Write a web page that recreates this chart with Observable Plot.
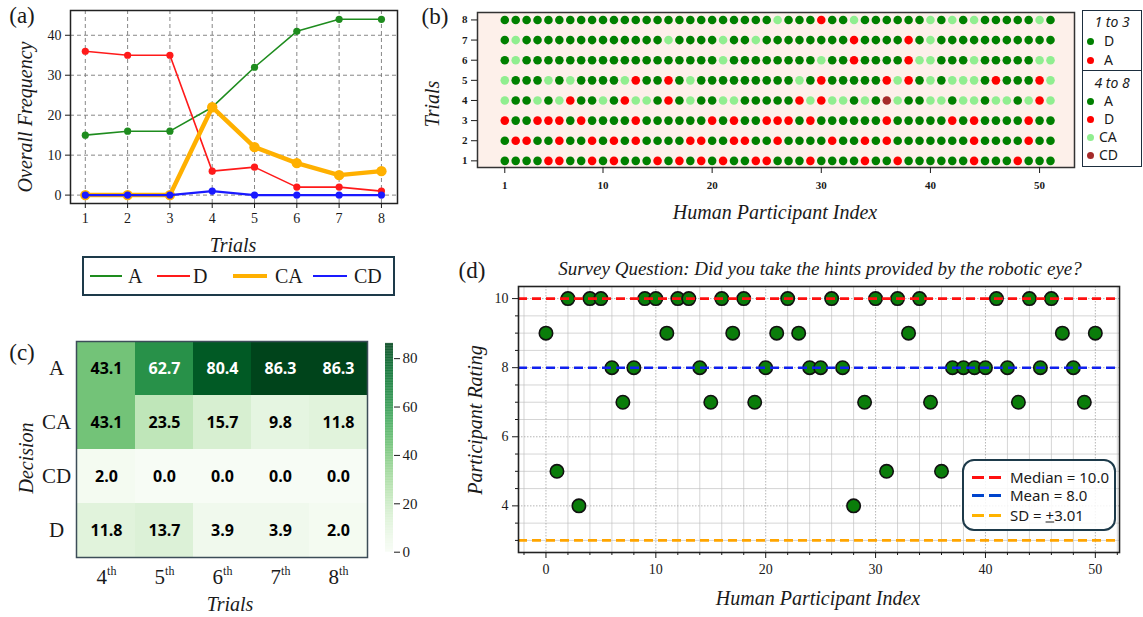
<!DOCTYPE html>
<html><head><meta charset="utf-8">
<script src="https://cdn.jsdelivr.net/npm/d3@7"></script>
<script src="https://cdn.jsdelivr.net/npm/@observablehq/plot@0.6"></script>
<style>
html,body{margin:0;padding:0;background:#fff;}
body{width:1143px;height:617px;position:relative;overflow:hidden;}
.t{position:absolute;white-space:nowrap;color:#1a1a1a;line-height:1;}
.box{position:absolute;box-sizing:border-box;}
.pl{position:absolute;}
</style></head><body>
<script>
// ---------------- DATA ----------------
// (a) overall frequency per trial
const trials = [1,2,3,4,5,6,7,8];
const freqA  = [15,16,16,22,32,41,44,44];
const freqD  = [36,35,35,6,7,2,2,1];
const freqCA = [0,0,0,22,12,8,5,6];
const freqCD = [0,0,0,1,0,0,0,0];
const freqYTicks = [0,10,20,30,40];

// (b) decision per participant (1..51) per trial
// trials 1-3: D / A ; trials 4-8: a = A, d = D, c = CA, x = CD
const trial1 = "DDDDAADDAD ADDDADADAD ADDAADDDAD DDDADDADDD DDDADDDADD D".split(/\s*/);
const trial2 = "DAADDADDAD ADADDDDAAD DAADDADDDD ADDADADDDD DDDADDDDAD D".split(/\s*/);
const trial3 = "ADDAAADADD DDADDDDDDA DADDAAADAD DDDDDADDDD DADADDDDAD D".split(/\s*/);
const trial4 = "caacacdaac adccadacaa ccaaaaadcd ccacaxcaac caccaccacd c".split(/\s*/);
const trial5 = "caaacacaaa acdaadacaa aaaaaaacad aaaaadcdac acccadaaad c".split(/\s*/);
const trial6 = "acaaaaaaaa aaaaaaaaaa caaaaaaaac aadaaaadcc aaacaaaaac c".split(/\s*/);
const trial7 = "acaaaaaaaa aaaaacaaaa caacaaaaaa aadaaaadac aaaaaaaaaa a".split(/\s*/);
const trial8 = "aaaaaaaaaa aaaaaaaaaa aaaaacaaad aacaaaaaac acacaaaaac a".split(/\s*/);
const participantTicks = [1,10,20,30,40,50];

// (c) percentage heatmap
const heatTrials = ["4","5","6","7","8"];
const heatDecisions = ["A","CA","CD","D"];
const heatA  = [43.1,62.7,80.4,86.3,86.3];
const heatCA = [43.1,23.5,15.7,9.8,11.8];
const heatCD = [2.0,0.0,0.0,0.0,0.0];
const heatD  = [11.8,13.7,3.9,3.9,2.0];
const colorbarTicks = [0,20,40,60,80];

// (d) survey ratings, participants 0..50
const ratings = [9,5,10,4,10,10,8,7,8,10, 10,9,10,10,8,7,10,9,10,7, 8,9,10,9,8,8,10,8,4,7,
                 10,5,10,9,10,7,5,8,8,8, 8,10,8,7,10,8,10,9,8,7, 9];
const medianLine = 10.0, meanLine = 8.0, sdLine = 3.0;
const ratingTicks = [4,6,8,10];
const indexTicks = [0,10,20,30,40,50];

// ---------------- HELPERS ----------------
const SERIF = '"Liberation Serif","DejaVu Serif",serif';
const SANS = '"Noto Sans","Open Sans",sans-serif';
function place(node, left, top){
  const d = document.createElement("div");
  d.className = "pl"; d.style.left = left+"px"; d.style.top = top+"px";
  d.appendChild(node); document.body.appendChild(d); return d;
}
function text(str, cx, cy, o={}){
  const el = document.createElement("div");
  el.className = "t";
  if (o.html) el.innerHTML = str; else el.textContent = str;
  el.style.left = cx+"px"; el.style.top = cy+"px";
  el.style.transform = (o.anchor==="start" ? "translate(0,-50%)" : "translate(-50%,-50%)") + (o.rotate ? " rotate(-90deg)" : "");
  el.style.fontFamily = o.font || SERIF;
  el.style.fontSize = (o.size||20)+"px";
  el.style.fontStyle = o.italic===false ? "normal" : "italic";
  if (o.weight) el.style.fontWeight = o.weight;
  document.body.appendChild(el); return el;
}
const baseStyle = {background:"transparent", overflow:"visible", fontFamily:SERIF, color:"#1a1a1a"};

// ---------------- (a) ----------------
const seriesA = [
  {name:"A",  values:freqA,  color:"#1e8c1e", width:1.6, r:3.6},
  {name:"D",  values:freqD,  color:"#ff1a1a", width:1.6, r:3.6},
  {name:"CA", values:freqCA, color:"#ffb000", width:4.5, r:5.2},
  {name:"CD", values:freqCD, color:"#1a1aff", width:2.2, r:3.6}
];
const pa = Plot.plot({
  width:400, height:260, marginLeft:70, marginRight:3, marginTop:10, marginBottom:57,
  x:{domain:[0.65,8.38]}, y:{domain:[-2.1,46.2]},
  style:{...baseStyle, fontSize:"14px"},
  marks:[
    Plot.gridX(trials,{stroke:"#7a7a7a", strokeOpacity:0.9, strokeDasharray:"4,3"}),
    Plot.gridY(freqYTicks,{stroke:"#7a7a7a", strokeOpacity:0.9, strokeDasharray:"4,3"}),
    ...seriesA.flatMap(s => [
      Plot.line(trials,{x:d=>d, y:(d,i)=>s.values[i], stroke:s.color, strokeWidth:s.width}),
      Plot.dot(trials,{x:d=>d, y:(d,i)=>s.values[i], fill:s.color, r:s.r})
    ]),
    Plot.frame({stroke:"#222", strokeWidth:1.5}),
    Plot.axisX(trials,{tickSize:5, tickPadding:5, fontSize:14, label:null}),
    Plot.axisY(freqYTicks,{tickSize:5, tickPadding:4, fontSize:14, label:null})
  ]
});
place(pa, 0, 0);
text("(a)", 22, 15, {size:23, italic:false});
text("Trials", 233, 245, {size:20});
text("Overall Frequency", 25, 117, {size:20, rotate:true});
// legend (a)
{
  const b = document.createElement("div");
  b.className = "box";
  b.style.cssText += "left:82px;top:256px;width:313px;height:40px;border:2px solid #1d3a4a;";
  document.body.appendChild(b);
  const items = [[90,122,"A",128],[157,190,"D",193],[233,267,"CA",275],[313,347,"CD",354]];
  items.forEach(([x1,x2,lab,tx],i)=>{
    const s = seriesA[i];
    const ln = document.createElement("div");
    ln.className="box";
    ln.style.cssText += `left:${x1}px;top:${276-s.width/2}px;width:${x2-x1}px;height:${s.width}px;background:${s.color};`;
    document.body.appendChild(ln);
    text(lab, tx, 276, {anchor:"start", size:20, italic:false});
  });
}

// ---------------- (b) ----------------
const trialRows = [trial1,trial2,trial3,trial4,trial5,trial6,trial7,trial8];
const codeMap = {D:"D", A:"A", a:"A", d:"D", c:"CA", x:"CD"};
const colorEarly = {D:"#008000", A:"#ff0000"};
const colorLate  = {A:"#008000", D:"#ff0000", CA:"#90ee90", CD:"#a52a2a"};
const bData = trialRows.flatMap((row,ti)=>row.map((code,pi)=>({trial:ti+1, participant:pi+1, decision:codeMap[code]})));
const pb = Plot.plot({
  width:660, height:230, marginLeft:57, marginRight:6, marginTop:12, marginBottom:63,
  x:{domain:[-1.5,53.2]}, y:{domain:[0.67,8.37]},
  color:{type:"identity"},
  style:{...baseStyle, fontSize:"11px"},
  marks:[
    Plot.frame({fill:"#fdf0ea"}),
    Plot.dot(bData,{x:"participant", y:"trial", r:4.3, fill:d=>(d.trial<=3?colorEarly:colorLate)[d.decision]}),
    Plot.frame({stroke:"#333", strokeWidth:1.5}),
    Plot.axisX(participantTicks,{tickSize:6, tickPadding:8, fontSize:11, fontWeight:"bold", label:null}),
    Plot.axisY(trials,{tickSize:6, tickPadding:4, fontSize:11, fontWeight:"bold", label:null})
  ]
});
place(pb, 420, 0);
text("(b)", 435, 16, {size:23, italic:false});
text("Trials", 432, 104, {size:20, rotate:true});
text("Human Participant Index", 775, 212, {size:20});
// legend (b)
{
  const mk = (top,h)=>{const b=document.createElement("div");b.className="box";
    b.style.cssText+=`left:1082px;top:${top}px;width:60px;height:${h}px;border:1.5px solid #1d2e3e;`;document.body.appendChild(b);};
  mk(10,61); mk(70,97);
  text("1 to 3", 1112, 22, {font:SANS, size:14});
  text("4 to 8", 1112, 83, {font:SANS, size:14});
  const rows = [[41,"D","#008000"],[60,"A","#ff0000"],[101,"A","#008000"],[119,"D","#ff0000"],[137,"CA","#90ee90"],[155,"CD","#a52a2a"]];
  rows.forEach(([y,lab,col])=>{
    const d=document.createElement("div");d.className="box";
    d.style.cssText+=`left:1087px;top:${y-3.5}px;width:7px;height:7px;border-radius:50%;background:${col};`;
    document.body.appendChild(d);
    text(lab, lab.length>1?1099:1104, y, {anchor:"start", font:SANS, size:14, italic:false});
  });
}

// ---------------- (c) ----------------
const heatRows = {A:heatA, CA:heatCA, CD:heatCD, D:heatD};
const cData = heatDecisions.flatMap(dec=>heatTrials.map((t,i)=>({trial:t, decision:dec, value:heatRows[dec][i]})));
const greens = {type:"linear", scheme:"greens", domain:[0,86.3]};
const pc = Plot.plot({
  width:380, height:297, marginLeft:76, marginRight:13, marginTop:21, marginBottom:60,
  x:{domain:heatTrials, padding:0}, y:{domain:heatDecisions, padding:0},
  color:greens,
  style:{...baseStyle, fontSize:"20px"},
  marks:[
    Plot.cell(cData,{x:"trial", y:"decision", fill:"value"}),
    Plot.text(cData,{filter:d=>d.value>50, x:"trial", y:"decision", text:d=>d.value.toFixed(1), fill:"white", fontSize:16, fontWeight:"bold", fontFamily:'"Open Sans","Noto Sans",sans-serif'}),
    Plot.text(cData,{filter:d=>d.value<=50, x:"trial", y:"decision", text:d=>d.value.toFixed(1), fill:"black", fontSize:16, fontWeight:"bold", fontFamily:'"Open Sans","Noto Sans",sans-serif'}),
    Plot.frame({stroke:"#3c4d58", strokeWidth:1.5}),
    Plot.axisX({tickSize:0, tickPadding:12, fontSize:21, label:null}),
    Plot.axisY({tickSize:0, tickPadding:20, fontSize:21, textAnchor:"middle", label:null})
  ]
});
d3.select(pc).selectAll('g[aria-label="x-axis tick label"] text').each(function(){
  d3.select(this).append("tspan").attr("font-size",12).attr("dy","-0.75em").text("th");
});
place(pc, 0, 320);
text("(c)", 22, 352, {size:23, italic:false});
text("Decision", 26, 458, {size:20, rotate:true});
text("Trials", 230, 604, {size:20});
// colorbar
const cbStops = d3.range(0, 86.3, 0.3);
const pcb = Plot.plot({
  width:60, height:240, marginLeft:15, marginRight:37, marginTop:12.9, marginBottom:18.3,
  x:{domain:[0,1], axis:null}, y:{domain:[0,86.3]},
  color:greens,
  style:{...baseStyle, fontSize:"15px"},
  marks:[
    Plot.rect(cbStops,{x1:0, x2:1, y1:d=>d, y2:d=>Math.min(86.3,d+0.35), fill:d=>d}),
    Plot.axisY(colorbarTicks,{anchor:"right", tickSize:6, tickPadding:3, fontSize:15, label:null})
  ]
});
place(pcb, 370, 330);

// ---------------- (d) ----------------
const minorX = d3.range(-2, 53, 2).filter(v=>v%10!==0);
const minorY = d3.range(3, 10.5, 0.5).filter(v=>!ratingTicks.includes(v));
const pd = Plot.plot({
  width:680, height:367, marginLeft:68, marginRight:11, marginTop:36, marginBottom:65,
  x:{domain:[-2.5,52.2]}, y:{domain:[2.65,10.35]},
  style:{...baseStyle, fontSize:"14px"},
  marks:[
    Plot.gridX(minorX,{stroke:"#bdbdbd", strokeOpacity:0.8, strokeWidth:0.8}),
    Plot.gridY(minorY,{stroke:"#bdbdbd", strokeOpacity:0.8, strokeWidth:0.8}),
    Plot.gridX(indexTicks,{stroke:"#999", strokeOpacity:0.9, strokeDasharray:"1.5,1.5", strokeWidth:0.8}),
    Plot.gridY(ratingTicks,{stroke:"#999", strokeOpacity:0.9, strokeDasharray:"1.5,1.5", strokeWidth:0.8}),
    Plot.ruleY([sdLine],{stroke:"#ffa500", strokeWidth:2.6, strokeDasharray:"9,5"}),
    Plot.dot(ratings,{x:(d,i)=>i, y:d=>d, r:6.7, fill:"#0a7d0a", stroke:"#111", strokeWidth:1.6}),
    Plot.ruleY([medianLine],{stroke:"#ff1010", strokeWidth:2.6, strokeDasharray:"9,5"}),
    Plot.ruleY([meanLine],{stroke:"#1020ee", strokeWidth:2.6, strokeDasharray:"9,5"}),
    Plot.frame({stroke:"#222", strokeWidth:1.6}),
    Plot.axisX(minorX,{tickSize:3, tickFormat:()=>"", label:null}),
    Plot.axisX(indexTicks,{tickSize:6, tickPadding:6, fontSize:14, label:null}),
    Plot.axisY(minorY,{tickSize:3, tickFormat:()=>"", label:null}),
    Plot.axisY(ratingTicks,{tickSize:6, tickPadding:4, fontSize:14, label:null})
  ]
});
place(pd, 450, 250);
text("(d)", 472, 270, {size:23, italic:false});
text("Survey Question: Did you take the hints provided by the robotic eye?", 820, 268, {size:19});
text("Participant Rating", 475, 420, {size:20, rotate:true});
text("Human Participant Index", 818, 598, {size:20});
// legend (d)
{
  const b=document.createElement("div");b.className="box";
  b.style.cssText+="left:962px;top:459px;width:154px;height:72px;border:2px solid #1d3a4a;border-radius:12px;background:rgba(255,255,255,0.85);";
  document.body.appendChild(b);
  const rows=[[477,"#ff1010","Median = 10.0"],[495,"#0044cc","Mean = 8.0"],[515,"#ffb300","SD = <span style='text-decoration:underline'>+</span>3.01"]];
  rows.forEach(([y,col,lab])=>{
    for (const x of [972,989]){
      const s=document.createElement("div");s.className="box";
      s.style.cssText+=`left:${x}px;top:${y-1.5}px;width:12px;height:3px;background:${col};`;
      document.body.appendChild(s);
    }
    text(lab, 1010, y, {anchor:"start", font:SANS, size:15, italic:false, html:true});
  });
}
</script>
</body></html>
